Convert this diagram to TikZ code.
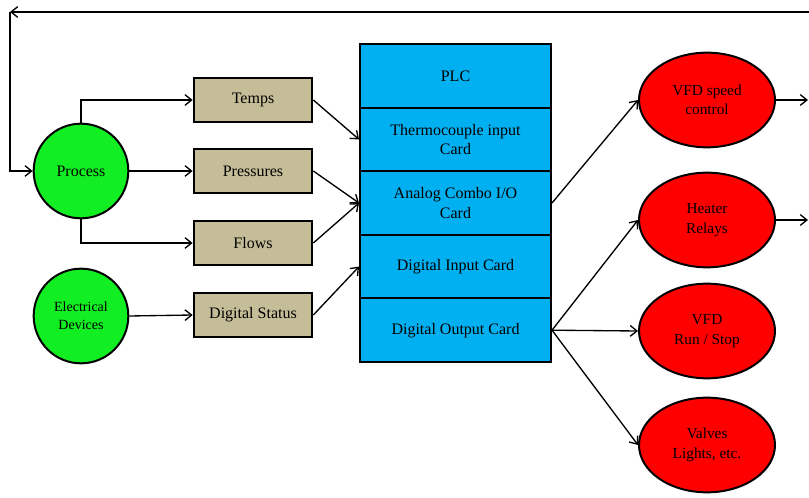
\documentclass[tikz,border=0pt]{standalone}
\usepackage{fontspec}
\setmainfont{Liberation Serif}
\usetikzlibrary{shapes.geometric,arrows.meta}
\definecolor{srcgreen}{RGB}{17,238,34}
\definecolor{sensortan}{RGB}{196,189,151}
\definecolor{cardblue}{RGB}{0,176,240}
\definecolor{outred}{RGB}{255,0,0}
\tikzset{
  source/.style={circle, draw, line width=1.5pt, fill=srcgreen, minimum size=71pt,
    inner sep=0pt, align=center},
  sensor/.style={rectangle, draw, line width=1.5pt, fill=sensortan, minimum width=89pt,
    minimum height=33pt, inner sep=0pt, font=\fontsize{12}{14.5}\selectfont},
  card/.style={rectangle, draw, line width=1.5pt, fill=cardblue, minimum width=143.25pt,
    minimum height=47.7pt, inner sep=0pt, align=center, font=\fontsize{12}{14.5}\selectfont},
  output/.style={ellipse, draw, line width=1.5pt, fill=outred, minimum width=102pt,
    minimum height=71pt, inner sep=0pt, align=center, font=\fontsize{11.5}{14.5}\selectfont},
  flow/.style={line width=1pt, -{Straight Barb[length=5pt,width=8pt,line width=1pt]}}
}
\begin{document}
\begin{tikzpicture}[x=0.75pt,y=-0.75pt]
  \useasboundingbox (0,0) rectangle (809,498);
  % Sources
  \node[source, font=\fontsize{12}{14.5}\selectfont] (process) at (81,171) {Process};
  \node[source, font=\fontsize{10.5}{13.5}\selectfont] (elec) at (81,316) {Electrical\\Devices};
  % Signals
  \node[sensor] (temps) at (253,100) {Temps};
  \node[sensor] (press) at (253,171) {Pressures};
  \node[sensor] (flows) at (253,243) {Flows};
  \node[sensor] (dstat) at (253,315) {Digital Status};
  % PLC rack
  \node[card] (plc) at (455.5,75.8) {PLC};
  \node[card] (thermo) at (455.5,139.4) {Thermocouple input\\Card};
  \node[card] (analog) at (455.5,203) {Analog Combo I/O\\Card};
  \node[card] (din) at (455.5,266.6) {Digital Input Card};
  \node[card] (dout) at (455.5,330.2) {Digital Output Card};
  % Outputs
  \node[output] (speed) at (707,100) {VFD speed\\control};
  \node[output] (heater) at (707,220) {Heater\\Relays};
  \node[output] (runstop) at (707,331) {VFD\\Run / Stop};
  \node[output] (valves) at (707,445) {Valves\\Lights, etc.};
  % Feedback loop
  \coordinate (fbR) at (809,12);
  \coordinate (fbL) at (10,12);
  \coordinate (outA) at (808,100);
  \coordinate (outB) at (808,220);
  \draw[flow] (fbR) -- (fbL);
  \draw[flow] (fbL) |- (process.west);
  % Connections
  \draw[flow] (process.north) |- (temps.west);
  \draw[flow] (process) -- (press);
  \draw[flow] (process.south) |- (flows.west);
  \draw[flow] (elec.east) -- (dstat.west);
  \draw[flow] (temps.east) -- (thermo.west);
  \draw[flow] (press.east) -- (analog.west);
  \draw[flow] (flows.east) -- (analog.west);
  \draw[flow] (dstat.east) -- (din.west);
  \draw[flow] (analog.east) -- (speed.west);
  \draw[flow] (dout.east) -- (heater.west);
  \draw[flow] (dout.east) -- (runstop.west);
  \draw[flow] (dout.east) -- (valves.west);
  \draw[flow] (speed.east) -- (outA);
  \draw[flow] (heater.east) -- (outB);
\end{tikzpicture}
\end{document}
